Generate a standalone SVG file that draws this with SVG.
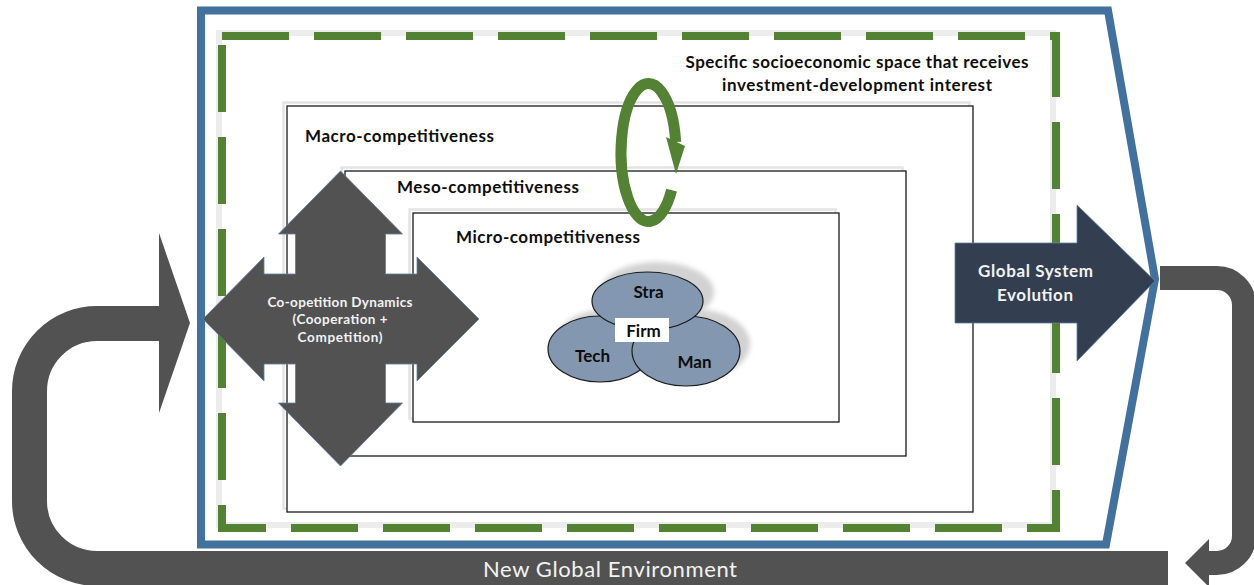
<svg xmlns="http://www.w3.org/2000/svg" width="1254" height="585" viewBox="0 0 1254 585">
  <style>
    .lbl { font-family: Lato, "Liberation Sans", sans-serif; font-weight: bold; fill: #0d0d0d; }
    .lite { font-family: Lato, "Liberation Sans", sans-serif; font-weight: bold; fill: #f2f2f2; }
    .box { fill: #ffffff; stroke: #1a1a1a; stroke-width: 1.3; }
    .boxshade { fill: none; stroke: #e4e4e4; stroke-width: 2.5; }
    .lobe { fill: #8497b0; stroke: #1a1a1a; stroke-width: 1.2; }
    .lobeshade { fill: #d2d2d2; filter: url(#soft); }
    .loop { fill: none; stroke: #525252; }
  </style>
  <defs>
    <filter id="soft" x="-20%" y="-20%" width="140%" height="140%">
      <feGaussianBlur stdDeviation="2.5"/>
    </filter>
  </defs>

  <rect width="1254" height="585" fill="#ffffff"/>

  <!-- outer system frame -->
  <g id="system-frame">
    <polygon points="201,10.5 1108,10.5 1155,279 1106,544.5 201,544.5" fill="none" stroke="#41719c" stroke-width="8" stroke-linejoin="miter"/>
  </g>

  <!-- socioeconomic space (dashed) -->
  <g id="socioeconomic-space">
    <rect x="219" y="33" width="834" height="492" fill="none" stroke="#ececec" stroke-width="6"/>
    <rect x="222" y="36" width="834" height="492" fill="none" stroke="#548235" stroke-width="8" stroke-dasharray="67 25"/>
    <text class="lbl" x="857" y="68" font-size="17" text-anchor="middle" textLength="343">Specific socioeconomic space that receives</text>
    <text class="lbl" x="857" y="91" font-size="17" text-anchor="middle" textLength="270">investment-development interest</text>
  </g>

  <!-- nested competitiveness levels -->
  <g id="macro">
    <rect class="boxshade" x="283.5" y="102.5" width="686" height="406"/>
    <rect class="box" x="287" y="106" width="686" height="406"/>
    <text class="lbl" x="305" y="142" font-size="17" textLength="189">Macro-competitiveness</text>
  </g>
  <g id="meso">
    <rect class="boxshade" x="341.5" y="167.5" width="561" height="285"/>
    <rect class="box" x="345" y="171" width="561" height="285"/>
    <text class="lbl" x="397" y="193" font-size="17" textLength="182">Meso-competitiveness</text>
  </g>
  <g id="micro">
    <rect class="boxshade" x="409.5" y="209.5" width="426" height="209"/>
    <rect class="box" x="413" y="213" width="426" height="209"/>
    <text class="lbl" x="456" y="243" font-size="17" textLength="184">Micro-competitiveness</text>
  </g>

  <!-- firm: strategy, technology, management -->
  <g id="firm">
    <ellipse class="lobeshade" cx="657" cy="292" rx="57" ry="30"/>
    <ellipse class="lobeshade" cx="608" cy="342" rx="52" ry="33"/>
    <ellipse class="lobeshade" cx="695" cy="344" rx="55" ry="35"/>
    <ellipse class="lobe" cx="600" cy="349" rx="52" ry="33"/>
    <ellipse class="lobe" cx="686" cy="351" rx="54" ry="35"/>
    <ellipse class="lobe" cx="647.5" cy="301" rx="55.5" ry="29"/>
    <rect x="615" y="318" width="54" height="24" fill="#ffffff"/>
    <text class="lbl" x="648.5" y="298" font-size="17" text-anchor="middle">Stra</text>
    <text class="lbl" x="592.5" y="362" font-size="17" text-anchor="middle">Tech</text>
    <text class="lbl" x="694.5" y="368" font-size="17" text-anchor="middle">Man</text>
    <text class="lbl" x="643.5" y="337" font-size="17" text-anchor="middle">Firm</text>
  </g>

  <!-- co-opetition four-way arrow -->
  <g id="coopetition">
    <polygon points="340.5,171 402.5,234 385.5,234 385.5,274 417,274 417,257 479,319 417,381 417,364 385.5,364 385.5,403 402.5,403 340.5,466 278.5,403 295.5,403 295.5,364 264,364 264,381 203,319 264,257 264,274 295.5,274 295.5,234 278.5,234" fill="#525252" stroke="#5b7fa6" stroke-width="0.8" stroke-linejoin="miter"/>
    <text class="lite" x="340" y="307" font-size="13.5" text-anchor="middle" textLength="145">Co-opetition Dynamics</text>
    <text class="lite" x="340" y="324" font-size="13.5" text-anchor="middle" textLength="95">(Cooperation +</text>
    <text class="lite" x="340" y="342" font-size="13.5" text-anchor="middle" textLength="85">Competition)</text>
  </g>

  <!-- circular development arrow -->
  <g id="cycle">
    <path d="M 671.6 190.1 A 27.5 69 0 1 1 675.7 142" fill="none" stroke="#548235" stroke-width="11"/>
    <polygon points="666,137 685,146 676,174" fill="#548235"/>
  </g>

  <!-- global system evolution -->
  <g id="global-evolution">
    <polygon points="955,243 1077,243 1077,205 1155,281 1077,361 1077,323 955,323" fill="#333f50" stroke="#5b7fa6" stroke-width="0.8"/>
    <text class="lite" x="1035.5" y="277" font-size="17" text-anchor="middle" textLength="115">Global System</text>
    <text class="lite" x="1035" y="301" font-size="17" text-anchor="middle" textLength="76">Evolution</text>
  </g>

  <!-- feedback loops -->
  <g id="connectors">
    <path class="loop" d="M 1160 278 H 1217 A 27 27 0 0 1 1244 305 V 536 A 27 27 0 0 1 1217 563 H 1206" stroke-width="24"/>
    <polygon points="1209,539 1185,563 1209,587" fill="#525252"/>
    <path class="loop" d="M 160 323.5 H 97 A 67.5 67.5 0 0 0 29.5 391 V 501 A 67.5 67.5 0 0 0 97 568.5 H 1168" stroke-width="35"/>
    <polygon points="159,233 190,323 159,413" fill="#525252"/>
  </g>
  <g id="new-environment">
    <text x="610" y="577" font-family="Lato, 'Liberation Sans', sans-serif" font-size="22" fill="#f2f2f2" text-anchor="middle" textLength="254">New Global Environment</text>
  </g>
</svg>
